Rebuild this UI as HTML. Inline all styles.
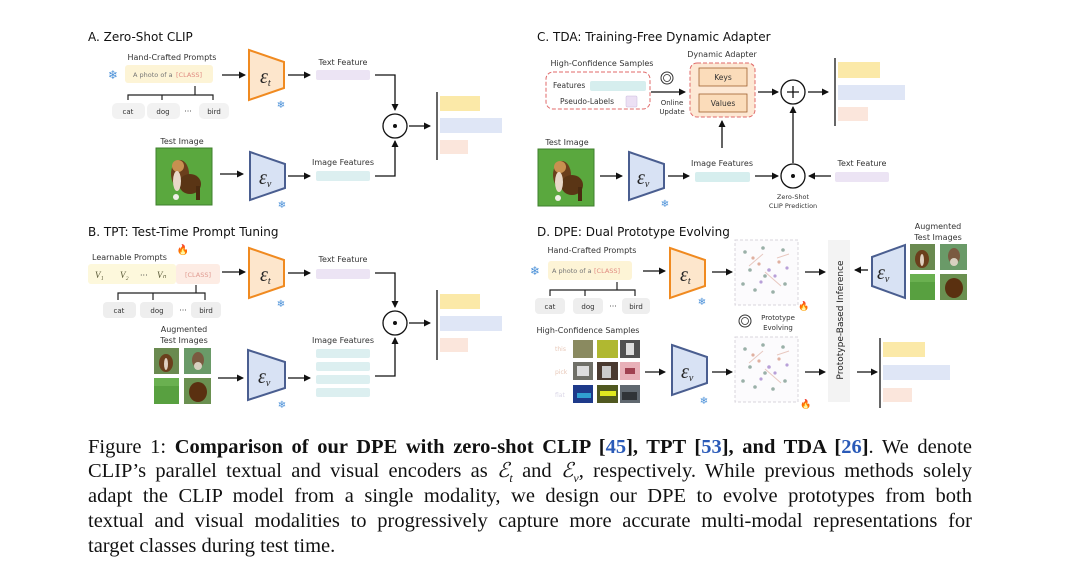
<!DOCTYPE html>
<html><head><meta charset="utf-8"><style>
html,body{margin:0;padding:0;background:#fff;}
#w{position:relative;width:1080px;height:575px;overflow:hidden;background:#fff;}
svg{position:absolute;left:0;top:0;}
svg text{font-family:"DejaVu Sans","Liberation Sans",sans-serif;fill:#333;}
.cap{position:absolute;left:88px;width:884px;font-family:"Liberation Serif",serif;font-size:20.5px;color:#111;line-height:25px;text-align:justify;text-align-last:justify;white-space:nowrap;}
.cap b{font-weight:bold;}
.cap .l{color:#2a5ab8;}
.cap i{font-family:"Liberation Serif",serif;}
</style></head><body><div id="w">
<svg width="1080" height="575" viewBox="0 0 1080 575">
<defs>
<marker id="a" markerWidth="8" markerHeight="8" refX="6" refY="4" orient="auto" markerUnits="userSpaceOnUse"><path d="M0,0.5 L7,4 L0,7.5z" fill="#111"/></marker>
<g id="dog">
<rect x="0" y="0" width="56" height="57" fill="#5aa83e"/>
<rect x="0" y="0" width="56" height="57" fill="none" stroke="#3f7f2d" stroke-width="1"/>
<ellipse cx="24" cy="26" rx="9" ry="14" fill="#6b3f1c"/>
<ellipse cx="34" cy="36" rx="11" ry="10" fill="#5a3515"/>
<ellipse cx="22" cy="18" rx="6" ry="6" fill="#c89050"/>
<ellipse cx="21" cy="33" rx="4" ry="10" fill="#e8d8c8"/>
<rect x="40" y="38" width="4" height="14" fill="#4a2a10"/>
<ellipse cx="20" cy="49" rx="3" ry="3" fill="#f0f0e8"/>
</g>
<g id="aug">
<rect x="0" y="0" width="25" height="26" fill="#6a8a50"/><ellipse cx="12" cy="15" rx="7" ry="9" fill="#6b3f1c"/><ellipse cx="12" cy="16" rx="2" ry="6" fill="#e0d0c0"/>
<rect x="30" y="0" width="27" height="26" fill="#6a9a68"/><ellipse cx="44" cy="12" rx="6" ry="8" fill="#7a5a40"/><ellipse cx="44" cy="18" rx="4" ry="4" fill="#d8d0c0"/>
<rect x="0" y="30" width="25" height="26" fill="#58a040"/><rect x="0" y="30" width="25" height="8" fill="#6ab050"/>
<rect x="30" y="30" width="27" height="26" fill="#6a9050"/><ellipse cx="44" cy="44" rx="9" ry="10" fill="#5a3010"/>
</g>
<g id="sc">
<rect x="0" y="0" width="63" height="65" fill="#fcfbfd" stroke="#d8d4dc" stroke-dasharray="3,2"/>
<g fill="#9ab0a8"><circle cx="10" cy="12" r="1.8"/><circle cx="28" cy="8" r="1.8"/><circle cx="48" cy="10" r="1.8"/><circle cx="15" cy="30" r="1.8"/><circle cx="20" cy="50" r="1.8"/><circle cx="38" cy="52" r="1.8"/><circle cx="50" cy="44" r="1.8"/><circle cx="8" cy="44" r="1.8"/><circle cx="30" cy="36" r="1.8"/></g>
<g fill="#e0b0a0"><circle cx="18" cy="18" r="1.6"/><circle cx="24" cy="24" r="1.6"/><circle cx="44" cy="22" r="1.6"/></g>
<g fill="#b8a0d8"><circle cx="34" cy="30" r="1.8"/><circle cx="40" cy="36" r="1.6"/><circle cx="52" cy="28" r="1.6"/><circle cx="26" cy="42" r="1.6"/></g>
<path d="M14,26 L28,14 M30,32 L46,46 M42,18 L54,14" stroke="#e8c8c0" stroke-width="1"/>
</g>
</defs>

<!-- ===== A ===== -->
<text x="88" y="41" font-size="12" fill="#111" style="fill:#111">A. Zero-Shot CLIP</text>
<text x="172" y="60" font-size="8" text-anchor="middle">Hand-Crafted Prompts</text>
<text x="113" y="79" font-size="12" text-anchor="middle" style="fill:#4a90d8">❄</text>
<rect x="125" y="65" width="88" height="18" rx="3" fill="#fdf4d6"/>
<text x="133" y="77" font-size="6.5" style="fill:#777">A photo of a</text><text x="176" y="77" font-size="6.5" style="fill:#e08a80">[CLASS]</text>
<path d="M128,100 V95 H213 V100 M162,95 V100 M195,95 V86" fill="none" stroke="#222" stroke-width="1.2"/>
<rect x="112" y="103" width="33" height="16" rx="5" fill="#f2f2f2"/><rect x="147" y="103" width="33" height="16" rx="5" fill="#f2f2f2"/><rect x="199" y="103" width="30" height="16" rx="5" fill="#f2f2f2"/>
<text x="128" y="114" font-size="7" text-anchor="middle">cat</text><text x="163" y="114" font-size="7" text-anchor="middle">dog</text><text x="188" y="114" font-size="8" text-anchor="middle">···</text><text x="214" y="114" font-size="7" text-anchor="middle">bird</text>
<line x1="222" y1="75" x2="245" y2="75" stroke="#111" stroke-width="1.3" marker-end="url(#a)"/>
<path d="M249,50 L284,62 L284,88 L249,100z" fill="#fde6cc" stroke="#f08a20" stroke-width="2"/>
<text x="260" y="83" font-size="20" font-family="Liberation Serif" style="fill:#222;font-family:'Liberation Serif',serif;font-style:italic">ε<tspan font-size="10" dy="3">t</tspan></text>
<text x="281" y="108" font-size="10" text-anchor="middle" style="fill:#4a90d8">❄</text>
<line x1="288" y1="75" x2="310" y2="75" stroke="#111" stroke-width="1.3" marker-end="url(#a)"/>
<text x="343" y="65" font-size="8" text-anchor="middle">Text Feature</text>
<rect x="316" y="70" width="54" height="10" rx="2" fill="#ece4f4"/>
<path d="M375,75 H395 V110" fill="none" stroke="#111" stroke-width="1.3" marker-end="url(#a)"/>
<circle cx="395" cy="126" r="12" fill="#fff" stroke="#111" stroke-width="1.3"/><circle cx="395" cy="126" r="2" fill="#111"/>
<text x="182" y="144" font-size="8" text-anchor="middle">Test Image</text>
<use href="#dog" x="156" y="148"/>
<line x1="220" y1="174" x2="243" y2="174" stroke="#111" stroke-width="1.3" marker-end="url(#a)"/>
<path d="M250,152 L285,164 L285,188 L250,200z" fill="#d8e2f4" stroke="#4a5e90" stroke-width="2"/>
<text x="259" y="184" font-size="20" style="fill:#222;font-family:'Liberation Serif',serif;font-style:italic">ε<tspan font-size="10" dy="3">v</tspan></text>
<text x="282" y="208" font-size="10" text-anchor="middle" style="fill:#4a90d8">❄</text>
<line x1="288" y1="176" x2="310" y2="176" stroke="#111" stroke-width="1.3" marker-end="url(#a)"/>
<text x="343" y="165" font-size="8" text-anchor="middle">Image Features</text>
<rect x="316" y="171" width="54" height="10" rx="2" fill="#dceff0"/>
<path d="M375,176 H395 V141" fill="none" stroke="#111" stroke-width="1.3" marker-end="url(#a)"/>
<line x1="409" y1="126" x2="430" y2="126" stroke="#111" stroke-width="1.3" marker-end="url(#a)"/>
<line x1="437" y1="92" x2="437" y2="160" stroke="#333" stroke-width="1.5"/>
<rect x="440" y="96" width="40" height="15" fill="#fbe9a8"/><rect x="440" y="118" width="62" height="15" fill="#dfe6f6"/><rect x="440" y="140" width="28" height="14" fill="#fbe6dc"/>

<!-- ===== B ===== -->
<text x="88" y="236" font-size="12" style="fill:#111">B. TPT: Test-Time Prompt Tuning</text>
<text x="92" y="260" font-size="8">Learnable Prompts</text>
<text x="183" y="253" font-size="10" text-anchor="middle" style="fill:#f06020">🔥</text>
<rect x="88" y="264" width="88" height="20" rx="3" fill="#fdf8dc"/>
<rect x="176" y="264" width="44" height="20" rx="3" fill="#fdece4"/>
<text x="95" y="278" font-size="9" style="fill:#553;font-family:'Liberation Serif',serif;font-style:italic">V₁</text>
<text x="120" y="278" font-size="9" style="fill:#553;font-family:'Liberation Serif',serif;font-style:italic">V₂</text>
<text x="140" y="278" font-size="8">···</text>
<text x="157" y="278" font-size="9" style="fill:#553;font-family:'Liberation Serif',serif;font-style:italic">Vₙ</text>
<text x="198" y="277" font-size="6.5" text-anchor="middle" style="fill:#e09a90">[CLASS]</text>
<path d="M118,300 V293 H205 V300 M153,293 V300 M196,293 V285" fill="none" stroke="#222" stroke-width="1.2"/>
<rect x="103" y="302" width="33" height="16" rx="4" fill="#eeeeee"/><rect x="140" y="302" width="33" height="16" rx="4" fill="#eeeeee"/><rect x="191" y="302" width="30" height="16" rx="4" fill="#eeeeee"/>
<text x="119" y="313" font-size="7" text-anchor="middle">cat</text><text x="157" y="313" font-size="7" text-anchor="middle">dog</text><text x="183" y="313" font-size="8" text-anchor="middle">···</text><text x="206" y="313" font-size="7" text-anchor="middle">bird</text>
<line x1="222" y1="272" x2="245" y2="272" stroke="#111" stroke-width="1.3" marker-end="url(#a)"/>
<path d="M249,248 L284,260 L284,286 L249,298z" fill="#fde6cc" stroke="#f08a20" stroke-width="2"/>
<text x="260" y="281" font-size="20" style="fill:#222;font-family:'Liberation Serif',serif;font-style:italic">ε<tspan font-size="10" dy="3">t</tspan></text>
<text x="281" y="307" font-size="10" text-anchor="middle" style="fill:#4a90d8">❄</text>
<line x1="288" y1="273" x2="310" y2="273" stroke="#111" stroke-width="1.3" marker-end="url(#a)"/>
<text x="343" y="262" font-size="8" text-anchor="middle">Text Feature</text>
<rect x="316" y="269" width="54" height="10" rx="2" fill="#ece4f4"/>
<path d="M375,273 H395 V307" fill="none" stroke="#111" stroke-width="1.3" marker-end="url(#a)"/>
<circle cx="395" cy="323" r="12" fill="#fff" stroke="#111" stroke-width="1.3"/><circle cx="395" cy="323" r="2" fill="#111"/>
<text x="184" y="332" font-size="8" text-anchor="middle">Augmented</text><text x="184" y="343" font-size="8" text-anchor="middle">Test Images</text>
<use href="#aug" x="154" y="348"/>
<line x1="218" y1="378" x2="243" y2="378" stroke="#111" stroke-width="1.3" marker-end="url(#a)"/>
<path d="M248,350 L285,362 L285,388 L248,400z" fill="#d8e2f4" stroke="#4a5e90" stroke-width="2"/>
<text x="258" y="383" font-size="20" style="fill:#222;font-family:'Liberation Serif',serif;font-style:italic">ε<tspan font-size="10" dy="3">v</tspan></text>
<text x="282" y="408" font-size="10" text-anchor="middle" style="fill:#4a90d8">❄</text>
<line x1="288" y1="378" x2="310" y2="378" stroke="#111" stroke-width="1.3" marker-end="url(#a)"/>
<text x="343" y="343" font-size="8" text-anchor="middle">Image Features</text>
<rect x="316" y="349" width="54" height="9" rx="2" fill="#dceff0"/><rect x="316" y="362" width="54" height="9" rx="2" fill="#dceff0"/><rect x="316" y="375" width="54" height="9" rx="2" fill="#dceff0"/><rect x="316" y="388" width="54" height="9" rx="2" fill="#dceff0"/>
<path d="M375,376 H395 V338" fill="none" stroke="#111" stroke-width="1.3" marker-end="url(#a)"/>
<line x1="409" y1="323" x2="430" y2="323" stroke="#111" stroke-width="1.3" marker-end="url(#a)"/>
<line x1="437" y1="290" x2="437" y2="360" stroke="#333" stroke-width="1.5"/>
<rect x="440" y="294" width="40" height="15" fill="#fbe9a8"/><rect x="440" y="316" width="62" height="15" fill="#dfe6f6"/><rect x="440" y="338" width="28" height="14" fill="#fbe6dc"/>

<!-- ===== C ===== -->
<text x="537" y="41" font-size="12" style="fill:#111">C. TDA: Training-Free Dynamic Adapter</text>
<text x="602" y="66" font-size="8" text-anchor="middle">High-Confidence Samples</text>
<rect x="546" y="72" width="104" height="37" rx="7" fill="#fff" stroke="#e06a6a" stroke-dasharray="4,2" stroke-width="1"/>
<text x="553" y="88" font-size="7.5">Features</text><rect x="590" y="81" width="56" height="10" rx="2" fill="#d6eeee"/>
<text x="560" y="104" font-size="7.5">Pseudo-Labels</text><rect x="626" y="96" width="11" height="11" rx="1" fill="#ece0f4" stroke="#c8b8dc" stroke-width="0.5"/>
<circle cx="667" cy="78" r="6" fill="none" stroke="#333" stroke-width="1"/><circle cx="667" cy="78" r="3.5" fill="none" stroke="#333" stroke-width="0.8"/>
<line x1="651" y1="92" x2="685" y2="92" stroke="#111" stroke-width="1.3" marker-end="url(#a)"/>
<text x="672" y="105" font-size="7" text-anchor="middle">Online</text><text x="672" y="114" font-size="7" text-anchor="middle">Update</text>
<text x="722" y="57" font-size="8" text-anchor="middle">Dynamic Adapter</text>
<rect x="690" y="63" width="65" height="54" rx="7" fill="#fde8d4" stroke="#e06a6a" stroke-dasharray="4,2" stroke-width="1"/>
<rect x="699" y="68" width="48" height="18" fill="#fbdcba" stroke="#a06030" stroke-width="0.8"/><text x="723" y="80" font-size="7.5" text-anchor="middle">Keys</text>
<rect x="699" y="94" width="48" height="18" fill="#fbdcba" stroke="#a06030" stroke-width="0.8"/><text x="723" y="106" font-size="7.5" text-anchor="middle">Values</text>
<line x1="758" y1="92" x2="778" y2="92" stroke="#111" stroke-width="1.3" marker-end="url(#a)"/>
<circle cx="793" cy="92" r="12" fill="#fff" stroke="#111" stroke-width="1.3"/><path d="M787,92 H799 M793,86 V98" stroke="#111" stroke-width="1.3"/>
<line x1="808" y1="92" x2="828" y2="92" stroke="#111" stroke-width="1.3" marker-end="url(#a)"/>
<line x1="835" y1="58" x2="835" y2="126" stroke="#333" stroke-width="1.5"/>
<rect x="838" y="62" width="42" height="16" fill="#fbe9a8"/><rect x="838" y="85" width="67" height="15" fill="#dfe6f6"/><rect x="838" y="107" width="30" height="14" fill="#fbe6dc"/>
<line x1="722" y1="148" x2="722" y2="121" stroke="#111" stroke-width="1.3" marker-end="url(#a)"/>
<text x="567" y="145" font-size="8" text-anchor="middle">Test Image</text>
<use href="#dog" x="538" y="149"/>
<line x1="600" y1="176" x2="622" y2="176" stroke="#111" stroke-width="1.3" marker-end="url(#a)"/>
<path d="M629,152 L664,164 L664,188 L629,200z" fill="#d8e2f4" stroke="#4a5e90" stroke-width="2"/>
<text x="637" y="184" font-size="20" style="fill:#222;font-family:'Liberation Serif',serif;font-style:italic">ε<tspan font-size="10" dy="3">v</tspan></text>
<text x="665" y="207" font-size="10" text-anchor="middle" style="fill:#4a90d8">❄</text>
<line x1="668" y1="176" x2="689" y2="176" stroke="#111" stroke-width="1.3" marker-end="url(#a)"/>
<text x="722" y="166" font-size="8" text-anchor="middle">Image Features</text>
<rect x="695" y="172" width="55" height="10" rx="2" fill="#d6eeee"/>
<line x1="755" y1="176" x2="778" y2="176" stroke="#111" stroke-width="1.3" marker-end="url(#a)"/>
<circle cx="793" cy="176" r="12" fill="#fff" stroke="#111" stroke-width="1.3"/><circle cx="793" cy="176" r="2" fill="#111"/>
<line x1="793" y1="163" x2="793" y2="107" stroke="#111" stroke-width="1.3" marker-end="url(#a)"/>
<text x="793" y="199" font-size="6.5" text-anchor="middle">Zero-Shot</text><text x="793" y="208" font-size="6.5" text-anchor="middle">CLIP Prediction</text>
<text x="862" y="166" font-size="8" text-anchor="middle">Text Feature</text>
<rect x="835" y="172" width="54" height="10" rx="2" fill="#ece4f4"/>
<line x1="831" y1="176" x2="809" y2="176" stroke="#111" stroke-width="1.3" marker-end="url(#a)"/>

<!-- ===== D ===== -->
<text x="537" y="236" font-size="12" style="fill:#111">D. DPE: Dual Prototype Evolving</text>
<text x="592" y="253" font-size="8" text-anchor="middle">Hand-Crafted Prompts</text>
<text x="535" y="275" font-size="12" text-anchor="middle" style="fill:#4a90d8">❄</text>
<rect x="548" y="261" width="84" height="19" rx="3" fill="#fdf4d6"/>
<text x="552" y="273" font-size="6.5" style="fill:#777">A photo of a</text><text x="594" y="273" font-size="6.5" style="fill:#e08a80">[CLASS]</text>
<path d="M550,296 V290 H635 V296 M585,290 V296 M617,290 V282" fill="none" stroke="#222" stroke-width="1.2"/>
<rect x="535" y="298" width="30" height="16" rx="4" fill="#eeeeee"/><rect x="573" y="298" width="30" height="16" rx="4" fill="#eeeeee"/><rect x="622" y="298" width="28" height="16" rx="4" fill="#eeeeee"/>
<text x="550" y="309" font-size="7" text-anchor="middle">cat</text><text x="588" y="309" font-size="7" text-anchor="middle">dog</text><text x="613" y="309" font-size="8" text-anchor="middle">···</text><text x="636" y="309" font-size="7" text-anchor="middle">bird</text>
<line x1="643" y1="271" x2="665" y2="271" stroke="#111" stroke-width="1.3" marker-end="url(#a)"/>
<path d="M670,248 L705,260 L705,286 L670,298z" fill="#fde6cc" stroke="#f08a20" stroke-width="2"/>
<text x="680" y="281" font-size="20" style="fill:#222;font-family:'Liberation Serif',serif;font-style:italic">ε<tspan font-size="10" dy="3">t</tspan></text>
<text x="702" y="305" font-size="10" text-anchor="middle" style="fill:#4a90d8">❄</text>
<line x1="712" y1="272" x2="732" y2="272" stroke="#111" stroke-width="1.3" marker-end="url(#a)"/>
<use href="#sc" x="735" y="240"/>
<text x="804" y="309" font-size="9" text-anchor="middle" style="fill:#f06020">🔥</text>
<line x1="805" y1="272" x2="825" y2="272" stroke="#111" stroke-width="1.3" marker-end="url(#a)"/>
<rect x="828" y="240" width="22" height="162" fill="#f3f3f3"/>
<text x="0" y="0" font-size="9" text-anchor="middle" transform="translate(843,320) rotate(-90)" style="fill:#222">Prototype-Based Inference</text>
<line x1="868" y1="270" x2="855" y2="270" stroke="#111" stroke-width="1.3" marker-end="url(#a)"/>
<path d="M872,257 L905,245 L905,298 L872,286z" fill="#d8e2f4" stroke="#4a5e90" stroke-width="2"/>
<text x="877" y="279" font-size="20" style="fill:#222;font-family:'Liberation Serif',serif;font-style:italic">ε<tspan font-size="10" dy="3">v</tspan></text>
<text x="938" y="229" font-size="8" text-anchor="middle">Augmented</text><text x="938" y="240" font-size="8" text-anchor="middle">Test Images</text>
<use href="#aug" x="910" y="244"/>
<circle cx="745" cy="321" r="6" fill="none" stroke="#333" stroke-width="1"/><circle cx="745" cy="321" r="3.5" fill="none" stroke="#333" stroke-width="0.8"/>
<text x="778" y="320" font-size="7" text-anchor="middle">Prototype</text><text x="778" y="330" font-size="7" text-anchor="middle">Evolving</text>
<text x="588" y="333" font-size="8" text-anchor="middle">High-Confidence Samples</text>
<text x="555" y="351" font-size="6" style="fill:#e8c8b8">this</text><text x="555" y="374" font-size="6" style="fill:#e8c8b8">pick</text><text x="555" y="397" font-size="6" style="fill:#dcd8e8">flat</text>
<rect x="573" y="340" width="20" height="18" fill="#8a8a60"/><rect x="597" y="340" width="21" height="18" fill="#b0b830"/><rect x="620" y="340" width="20" height="18" fill="#505050"/><rect x="626" y="343" width="8" height="12" fill="#ddd"/>
<rect x="573" y="362" width="20" height="18" fill="#707068"/><rect x="577" y="366" width="12" height="10" fill="#ddd"/><rect x="597" y="362" width="21" height="18" fill="#4a3a30"/><rect x="602" y="366" width="9" height="12" fill="#ccc"/><rect x="620" y="362" width="20" height="18" fill="#e8b0b8"/><rect x="625" y="368" width="10" height="6" fill="#a04050"/>
<rect x="573" y="385" width="20" height="18" fill="#1e3a8a"/><rect x="577" y="393" width="14" height="5" fill="#30a0d0"/><rect x="597" y="385" width="21" height="18" fill="#505820"/><rect x="600" y="391" width="16" height="5" fill="#e0e820"/><rect x="620" y="385" width="20" height="18" fill="#606870"/><rect x="622" y="392" width="15" height="8" fill="#303438"/>
<line x1="645" y1="372" x2="665" y2="372" stroke="#111" stroke-width="1.3" marker-end="url(#a)"/>
<path d="M672,345 L707,357 L707,383 L672,395z" fill="#d8e2f4" stroke="#4a5e90" stroke-width="2"/>
<text x="681" y="378" font-size="20" style="fill:#222;font-family:'Liberation Serif',serif;font-style:italic">ε<tspan font-size="10" dy="3">v</tspan></text>
<text x="704" y="404" font-size="10" text-anchor="middle" style="fill:#4a90d8">❄</text>
<line x1="712" y1="372" x2="732" y2="372" stroke="#111" stroke-width="1.3" marker-end="url(#a)"/>
<use href="#sc" x="735" y="337"/>
<text x="806" y="407" font-size="9" text-anchor="middle" style="fill:#f06020">🔥</text>
<line x1="805" y1="372" x2="825" y2="372" stroke="#111" stroke-width="1.3" marker-end="url(#a)"/>
<line x1="857" y1="372" x2="877" y2="372" stroke="#111" stroke-width="1.3" marker-end="url(#a)"/>
<line x1="880" y1="338" x2="880" y2="408" stroke="#333" stroke-width="1.5"/>
<rect x="883" y="342" width="42" height="15" fill="#fbe9a8"/><rect x="883" y="365" width="67" height="15" fill="#dfe6f6"/><rect x="883" y="388" width="29" height="14" fill="#fbe6dc"/>
</svg>

<div class="cap" style="top:435px">Figure 1: <b>Comparison of our DPE with zero-shot CLIP [<span class="l">45</span>], TPT [<span class="l">53</span>], and TDA [<span class="l">26</span>]</b>. We denote</div>
<div class="cap" style="top:459px">CLIP’s parallel textual and visual encoders as <i>ℰ<sub style="font-size:12px">t</sub></i> and <i>ℰ<sub style="font-size:12px">v</sub></i>, respectively. While previous methods solely</div>
<div class="cap" style="top:484px">adapt the CLIP model from a single modality, we design our DPE to evolve prototypes from both</div>
<div class="cap" style="top:509px">textual and visual modalities to progressively capture more accurate multi-modal representations for</div>
<div class="cap" style="top:534px;text-align-last:left;width:auto">target classes during test time.</div>
</div></body></html>
